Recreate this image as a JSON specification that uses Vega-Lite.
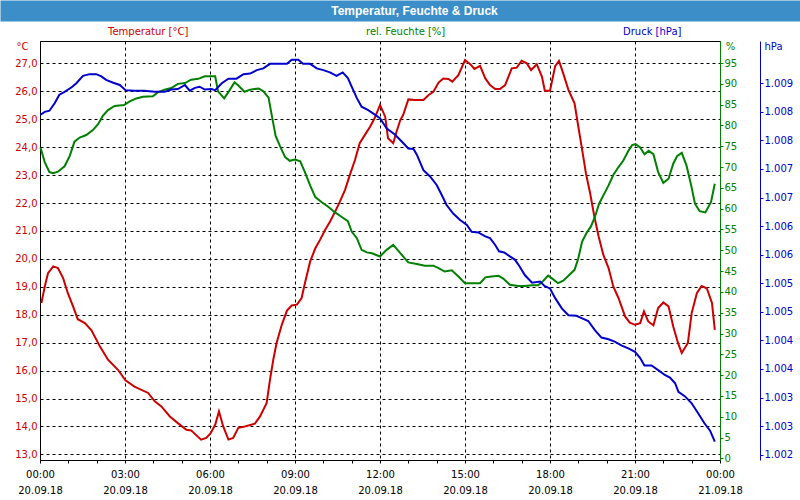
{
  "$schema": "https://vega.github.io/schema/vega-lite/v6.json",
  "width": 680,
  "height": 419,
  "autosize": "none",
  "padding": {"left": 40, "top": 41, "right": 80, "bottom": 40},
  "background": "white",
  "config": {
    "font": "DejaVu Sans",
    "view": {"stroke": "black", "strokeWidth": 1},
    "axis": {"labelFont": "DejaVu Sans", "labelFontSize": 10, "titleFont": "DejaVu Sans", "titleFontSize": 10, "titleFontWeight": "normal"}
  },
  "datasets": {
    "temperatur": [
      {"time":"2018-09-20T00:03","value":18.42},{"time":"2018-09-20T00:10","value":19.0},{"time":"2018-09-20T00:17","value":19.49},{"time":"2018-09-20T00:28","value":19.73},{"time":"2018-09-20T00:38","value":19.67},{"time":"2018-09-20T00:49","value":19.31},{"time":"2018-09-20T00:59","value":18.77},{"time":"2018-09-20T01:10","value":18.3},{"time":"2018-09-20T01:20","value":17.84},{"time":"2018-09-20T01:35","value":17.7},{"time":"2018-09-20T01:49","value":17.44},{"time":"2018-09-20T02:07","value":16.86},{"time":"2018-09-20T02:24","value":16.39},{"time":"2018-09-20T02:45","value":16.03},{"time":"2018-09-20T03:01","value":15.65},{"time":"2018-09-20T03:20","value":15.43},{"time":"2018-09-20T03:49","value":15.2},{"time":"2018-09-20T04:03","value":14.9},{"time":"2018-09-20T04:17","value":14.72},{"time":"2018-09-20T04:35","value":14.36},{"time":"2018-09-20T04:52","value":14.12},{"time":"2018-09-20T05:10","value":13.88},{"time":"2018-09-20T05:20","value":13.86},{"time":"2018-09-20T05:41","value":13.53},{"time":"2018-09-20T05:52","value":13.59},{"time":"2018-09-20T06:01","value":13.75},{"time":"2018-09-20T06:11","value":14.06},{"time":"2018-09-20T06:19","value":14.54},{"time":"2018-09-20T06:28","value":14.0},{"time":"2018-09-20T06:39","value":13.53},{"time":"2018-09-20T06:49","value":13.59},{"time":"2018-09-20T07:00","value":13.95},{"time":"2018-09-20T07:14","value":14.0},{"time":"2018-09-20T07:35","value":14.1},{"time":"2018-09-20T07:46","value":14.36},{"time":"2018-09-20T08:00","value":14.84},{"time":"2018-09-20T08:07","value":15.67},{"time":"2018-09-20T08:14","value":16.39},{"time":"2018-09-20T08:21","value":16.99},{"time":"2018-09-20T08:32","value":17.64},{"time":"2018-09-20T08:43","value":18.15},{"time":"2018-09-20T08:53","value":18.33},{"time":"2018-09-20T09:04","value":18.36},{"time":"2018-09-20T09:14","value":18.6},{"time":"2018-09-20T09:21","value":19.13},{"time":"2018-09-20T09:32","value":19.9},{"time":"2018-09-20T09:43","value":20.38},{"time":"2018-09-20T09:53","value":20.68},{"time":"2018-09-20T10:04","value":21.04},{"time":"2018-09-20T10:14","value":21.33},{"time":"2018-09-20T10:25","value":21.69},{"time":"2018-09-20T10:35","value":22.05},{"time":"2018-09-20T10:46","value":22.47},{"time":"2018-09-20T10:56","value":23.0},{"time":"2018-09-20T11:07","value":23.54},{"time":"2018-09-20T11:17","value":24.14},{"time":"2018-09-20T11:28","value":24.44},{"time":"2018-09-20T11:39","value":24.73},{"time":"2018-09-20T11:49","value":25.05},{"time":"2018-09-20T12:00","value":25.51},{"time":"2018-09-20T12:11","value":25.09},{"time":"2018-09-20T12:17","value":24.32},{"time":"2018-09-20T12:28","value":24.14},{"time":"2018-09-20T12:35","value":24.55},{"time":"2018-09-20T12:43","value":24.97},{"time":"2018-09-20T12:49","value":25.15},{"time":"2018-09-20T13:00","value":25.71},{"time":"2018-09-20T13:14","value":25.69},{"time":"2018-09-20T13:32","value":25.69},{"time":"2018-09-20T13:43","value":25.87},{"time":"2018-09-20T13:53","value":25.98},{"time":"2018-09-20T14:04","value":26.31},{"time":"2018-09-20T14:14","value":26.46},{"time":"2018-09-20T14:25","value":26.44},{"time":"2018-09-20T14:33","value":26.34},{"time":"2018-09-20T14:46","value":26.58},{"time":"2018-09-20T15:00","value":27.12},{"time":"2018-09-20T15:11","value":26.97},{"time":"2018-09-20T15:20","value":26.8},{"time":"2018-09-20T15:32","value":26.91},{"time":"2018-09-20T15:43","value":26.46},{"time":"2018-09-20T15:53","value":26.22},{"time":"2018-09-20T16:04","value":26.08},{"time":"2018-09-20T16:14","value":26.08},{"time":"2018-09-20T16:25","value":26.22},{"time":"2018-09-20T16:39","value":26.82},{"time":"2018-09-20T16:49","value":26.84},{"time":"2018-09-20T17:00","value":27.09},{"time":"2018-09-20T17:11","value":27.0},{"time":"2018-09-20T17:20","value":26.76},{"time":"2018-09-20T17:32","value":26.97},{"time":"2018-09-20T17:43","value":26.52},{"time":"2018-09-20T17:49","value":26.02},{"time":"2018-09-20T18:00","value":26.02},{"time":"2018-09-20T18:11","value":26.9},{"time":"2018-09-20T18:19","value":27.09},{"time":"2018-09-20T18:28","value":26.64},{"time":"2018-09-20T18:39","value":26.05},{"time":"2018-09-20T18:52","value":25.57},{"time":"2018-09-20T19:00","value":24.73},{"time":"2018-09-20T19:07","value":24.02},{"time":"2018-09-20T19:16","value":23.07},{"time":"2018-09-20T19:25","value":22.35},{"time":"2018-09-20T19:34","value":21.51},{"time":"2018-09-20T19:43","value":20.8},{"time":"2018-09-20T19:53","value":20.14},{"time":"2018-09-20T20:04","value":19.67},{"time":"2018-09-20T20:14","value":19.01},{"time":"2018-09-20T20:25","value":18.6},{"time":"2018-09-20T20:39","value":17.94},{"time":"2018-09-20T20:49","value":17.72},{"time":"2018-09-20T21:00","value":17.64},{"time":"2018-09-20T21:11","value":17.7},{"time":"2018-09-20T21:19","value":18.12},{"time":"2018-09-20T21:28","value":17.76},{"time":"2018-09-20T21:39","value":17.62},{"time":"2018-09-20T21:49","value":18.24},{"time":"2018-09-20T22:00","value":18.44},{"time":"2018-09-20T22:11","value":18.3},{"time":"2018-09-20T22:21","value":17.58},{"time":"2018-09-20T22:31","value":16.99},{"time":"2018-09-20T22:39","value":16.63},{"time":"2018-09-20T22:52","value":16.99},{"time":"2018-09-20T23:00","value":18.06},{"time":"2018-09-20T23:11","value":18.77},{"time":"2018-09-20T23:21","value":19.03},{"time":"2018-09-20T23:32","value":18.95},{"time":"2018-09-20T23:43","value":18.42},{"time":"2018-09-20T23:49","value":17.46}
    ],
    "feuchte": [
      {"time":"2018-09-20T00:01","value":74.7},{"time":"2018-09-20T00:10","value":71.2},{"time":"2018-09-20T00:20","value":68.8},{"time":"2018-09-20T00:28","value":68.5},{"time":"2018-09-20T00:38","value":68.9},{"time":"2018-09-20T00:52","value":70.2},{"time":"2018-09-20T01:03","value":72.7},{"time":"2018-09-20T01:13","value":76.1},{"time":"2018-09-20T01:24","value":77.1},{"time":"2018-09-20T01:38","value":77.7},{"time":"2018-09-20T01:52","value":78.9},{"time":"2018-09-20T02:03","value":80.3},{"time":"2018-09-20T02:13","value":82.3},{"time":"2018-09-20T02:24","value":83.7},{"time":"2018-09-20T02:38","value":84.7},{"time":"2018-09-20T02:58","value":84.9},{"time":"2018-09-20T03:10","value":85.8},{"time":"2018-09-20T03:24","value":86.5},{"time":"2018-09-20T03:38","value":86.9},{"time":"2018-09-20T03:59","value":87.0},{"time":"2018-09-20T04:10","value":88.0},{"time":"2018-09-20T04:24","value":88.6},{"time":"2018-09-20T04:38","value":89.0},{"time":"2018-09-20T04:52","value":90.0},{"time":"2018-09-20T05:07","value":90.2},{"time":"2018-09-20T05:20","value":91.0},{"time":"2018-09-20T05:35","value":91.2},{"time":"2018-09-20T05:49","value":91.8},{"time":"2018-09-20T06:11","value":91.8},{"time":"2018-09-20T06:17","value":88.2},{"time":"2018-09-20T06:30","value":86.5},{"time":"2018-09-20T06:40","value":88.2},{"time":"2018-09-20T06:52","value":90.4},{"time":"2018-09-20T07:00","value":89.6},{"time":"2018-09-20T07:13","value":88.1},{"time":"2018-09-20T07:25","value":88.6},{"time":"2018-09-20T07:43","value":88.9},{"time":"2018-09-20T07:53","value":88.2},{"time":"2018-09-20T08:04","value":86.7},{"time":"2018-09-20T08:11","value":82.3},{"time":"2018-09-20T08:19","value":77.5},{"time":"2018-09-20T08:28","value":75.1},{"time":"2018-09-20T08:39","value":72.4},{"time":"2018-09-20T08:49","value":71.5},{"time":"2018-09-20T09:00","value":71.8},{"time":"2018-09-20T09:11","value":71.4},{"time":"2018-09-20T09:21","value":68.8},{"time":"2018-09-20T09:32","value":65.6},{"time":"2018-09-20T09:43","value":62.8},{"time":"2018-09-20T09:56","value":61.6},{"time":"2018-09-20T10:11","value":60.4},{"time":"2018-09-20T10:25","value":59.1},{"time":"2018-09-20T10:39","value":58.0},{"time":"2018-09-20T10:52","value":57.0},{"time":"2018-09-20T11:00","value":54.5},{"time":"2018-09-20T11:11","value":52.9},{"time":"2018-09-20T11:21","value":50.1},{"time":"2018-09-20T11:32","value":49.5},{"time":"2018-09-20T11:43","value":49.3},{"time":"2018-09-20T12:00","value":48.5},{"time":"2018-09-20T12:14","value":50.1},{"time":"2018-09-20T12:28","value":51.3},{"time":"2018-09-20T12:43","value":49.3},{"time":"2018-09-20T13:00","value":47.1},{"time":"2018-09-20T13:18","value":46.7},{"time":"2018-09-20T13:35","value":46.3},{"time":"2018-09-20T13:53","value":46.3},{"time":"2018-09-20T14:04","value":45.7},{"time":"2018-09-20T14:17","value":44.9},{"time":"2018-09-20T14:32","value":45.2},{"time":"2018-09-20T14:46","value":43.7},{"time":"2018-09-20T15:00","value":42.1},{"time":"2018-09-20T15:14","value":42.1},{"time":"2018-09-20T15:32","value":42.1},{"time":"2018-09-20T15:43","value":43.5},{"time":"2018-09-20T15:56","value":43.7},{"time":"2018-09-20T16:11","value":43.9},{"time":"2018-09-20T16:21","value":43.2},{"time":"2018-09-20T16:35","value":41.7},{"time":"2018-09-20T16:53","value":41.4},{"time":"2018-09-20T17:07","value":41.4},{"time":"2018-09-20T17:22","value":41.6},{"time":"2018-09-20T17:35","value":41.6},{"time":"2018-09-20T17:46","value":42.7},{"time":"2018-09-20T17:56","value":43.9},{"time":"2018-09-20T18:07","value":43.0},{"time":"2018-09-20T18:17","value":42.1},{"time":"2018-09-20T18:28","value":42.7},{"time":"2018-09-20T18:39","value":43.9},{"time":"2018-09-20T18:52","value":45.3},{"time":"2018-09-20T19:00","value":48.1},{"time":"2018-09-20T19:08","value":52.1},{"time":"2018-09-20T19:17","value":54.1},{"time":"2018-09-20T19:27","value":55.8},{"time":"2018-09-20T19:35","value":58.0},{"time":"2018-09-20T19:44","value":61.2},{"time":"2018-09-20T19:53","value":63.2},{"time":"2018-09-20T20:04","value":65.6},{"time":"2018-09-20T20:14","value":68.1},{"time":"2018-09-20T20:25","value":70.0},{"time":"2018-09-20T20:35","value":71.5},{"time":"2018-09-20T20:46","value":73.9},{"time":"2018-09-20T20:54","value":75.3},{"time":"2018-09-20T21:01","value":75.5},{"time":"2018-09-20T21:11","value":74.7},{"time":"2018-09-20T21:20","value":73.1},{"time":"2018-09-20T21:29","value":73.9},{"time":"2018-09-20T21:39","value":73.1},{"time":"2018-09-20T21:49","value":68.8},{"time":"2018-09-20T22:00","value":66.2},{"time":"2018-09-20T22:11","value":67.2},{"time":"2018-09-20T22:21","value":70.8},{"time":"2018-09-20T22:29","value":72.6},{"time":"2018-09-20T22:39","value":73.4},{"time":"2018-09-20T22:49","value":70.4},{"time":"2018-09-20T22:59","value":65.6},{"time":"2018-09-20T23:07","value":61.2},{"time":"2018-09-20T23:17","value":59.4},{"time":"2018-09-20T23:29","value":59.1},{"time":"2018-09-20T23:41","value":61.6},{"time":"2018-09-20T23:49","value":66.0}
    ],
    "druck": [
      {"time":"2018-09-20T00:01","value":1007.95},{"time":"2018-09-20T00:10","value":1008.0},{"time":"2018-09-20T00:20","value":1008.02},{"time":"2018-09-20T00:31","value":1008.15},{"time":"2018-09-20T00:41","value":1008.3},{"time":"2018-09-20T00:52","value":1008.35},{"time":"2018-09-20T01:07","value":1008.43},{"time":"2018-09-20T01:17","value":1008.5},{"time":"2018-09-20T01:31","value":1008.63},{"time":"2018-09-20T01:45","value":1008.66},{"time":"2018-09-20T01:59","value":1008.66},{"time":"2018-09-20T02:10","value":1008.62},{"time":"2018-09-20T02:20","value":1008.56},{"time":"2018-09-20T02:35","value":1008.51},{"time":"2018-09-20T02:49","value":1008.47},{"time":"2018-09-20T03:01","value":1008.38},{"time":"2018-09-20T03:20","value":1008.37},{"time":"2018-09-20T03:41","value":1008.37},{"time":"2018-09-20T04:03","value":1008.35},{"time":"2018-09-20T04:24","value":1008.35},{"time":"2018-09-20T04:38","value":1008.39},{"time":"2018-09-20T04:52","value":1008.4},{"time":"2018-09-20T05:07","value":1008.47},{"time":"2018-09-20T05:17","value":1008.37},{"time":"2018-09-20T05:28","value":1008.42},{"time":"2018-09-20T05:38","value":1008.44},{"time":"2018-09-20T05:49","value":1008.39},{"time":"2018-09-20T06:03","value":1008.4},{"time":"2018-09-20T06:11","value":1008.38},{"time":"2018-09-20T06:25","value":1008.5},{"time":"2018-09-20T06:39","value":1008.58},{"time":"2018-09-20T06:56","value":1008.58},{"time":"2018-09-20T07:11","value":1008.66},{"time":"2018-09-20T07:25","value":1008.67},{"time":"2018-09-20T07:39","value":1008.73},{"time":"2018-09-20T07:53","value":1008.76},{"time":"2018-09-20T08:07","value":1008.84},{"time":"2018-09-20T08:25","value":1008.84},{"time":"2018-09-20T08:43","value":1008.84},{"time":"2018-09-20T08:53","value":1008.91},{"time":"2018-09-20T09:07","value":1008.91},{"time":"2018-09-20T09:17","value":1008.84},{"time":"2018-09-20T09:32","value":1008.84},{"time":"2018-09-20T09:46","value":1008.76},{"time":"2018-09-20T10:00","value":1008.73},{"time":"2018-09-20T10:14","value":1008.69},{"time":"2018-09-20T10:28","value":1008.63},{"time":"2018-09-20T10:41","value":1008.69},{"time":"2018-09-20T10:52","value":1008.59},{"time":"2018-09-20T11:00","value":1008.44},{"time":"2018-09-20T11:11","value":1008.24},{"time":"2018-09-20T11:21","value":1008.09},{"time":"2018-09-20T11:35","value":1008.03},{"time":"2018-09-20T11:46","value":1007.97},{"time":"2018-09-20T12:00","value":1007.89},{"time":"2018-09-20T12:14","value":1007.71},{"time":"2018-09-20T12:32","value":1007.6},{"time":"2018-09-20T12:46","value":1007.48},{"time":"2018-09-20T13:00","value":1007.36},{"time":"2018-09-20T13:11","value":1007.35},{"time":"2018-09-20T13:18","value":1007.25},{"time":"2018-09-20T13:32","value":1006.98},{"time":"2018-09-20T13:46","value":1006.87},{"time":"2018-09-20T14:00","value":1006.72},{"time":"2018-09-20T14:11","value":1006.54},{"time":"2018-09-20T14:21","value":1006.37},{"time":"2018-09-20T14:35","value":1006.22},{"time":"2018-09-20T14:49","value":1006.11},{"time":"2018-09-20T15:04","value":1006.02},{"time":"2018-09-20T15:14","value":1005.9},{"time":"2018-09-20T15:28","value":1005.89},{"time":"2018-09-20T15:43","value":1005.82},{"time":"2018-09-20T15:53","value":1005.79},{"time":"2018-09-20T16:04","value":1005.67},{"time":"2018-09-20T16:12","value":1005.56},{"time":"2018-09-20T16:23","value":1005.54},{"time":"2018-09-20T16:35","value":1005.47},{"time":"2018-09-20T16:46","value":1005.41},{"time":"2018-09-20T16:56","value":1005.29},{"time":"2018-09-20T17:07","value":1005.14},{"time":"2018-09-20T17:22","value":1005.01},{"time":"2018-09-20T17:39","value":1005.03},{"time":"2018-09-20T17:49","value":1004.95},{"time":"2018-09-20T18:00","value":1004.91},{"time":"2018-09-20T18:11","value":1004.74},{"time":"2018-09-20T18:25","value":1004.56},{"time":"2018-09-20T18:39","value":1004.44},{"time":"2018-09-20T18:56","value":1004.43},{"time":"2018-09-20T19:07","value":1004.39},{"time":"2018-09-20T19:21","value":1004.34},{"time":"2018-09-20T19:35","value":1004.18},{"time":"2018-09-20T19:49","value":1004.05},{"time":"2018-09-20T20:04","value":1004.02},{"time":"2018-09-20T20:17","value":1003.98},{"time":"2018-09-20T20:32","value":1003.91},{"time":"2018-09-20T20:46","value":1003.86},{"time":"2018-09-20T21:00","value":1003.8},{"time":"2018-09-20T21:11","value":1003.69},{"time":"2018-09-20T21:20","value":1003.56},{"time":"2018-09-20T21:35","value":1003.56},{"time":"2018-09-20T21:49","value":1003.48},{"time":"2018-09-20T22:04","value":1003.39},{"time":"2018-09-20T22:14","value":1003.35},{"time":"2018-09-20T22:25","value":1003.25},{"time":"2018-09-20T22:32","value":1003.1},{"time":"2018-09-20T22:46","value":1003.02},{"time":"2018-09-20T23:00","value":1002.9},{"time":"2018-09-20T23:14","value":1002.72},{"time":"2018-09-20T23:27","value":1002.55},{"time":"2018-09-20T23:39","value":1002.42},{"time":"2018-09-20T23:49","value":1002.23}
    ]
  },
  "layer": [
    {
      "data": {"name": "temperatur"},
      "mark": {"type": "line", "strokeWidth": 2},
      "encoding": {
        "x": {
          "field": "time", "type": "temporal",
          "scale": {"domain": [{"year": 2018, "month": 9, "date": 20, "hours": 0}, {"year": 2018, "month": 9, "date": 21, "hours": 0}], "nice": false},
          "axis": {
            "orient": "bottom", "title": null,
            "values": [
              {"year": 2018, "month": 9, "date": 20, "hours": 0}, {"year": 2018, "month": 9, "date": 20, "hours": 1}, {"year": 2018, "month": 9, "date": 20, "hours": 2},
              {"year": 2018, "month": 9, "date": 20, "hours": 3}, {"year": 2018, "month": 9, "date": 20, "hours": 4}, {"year": 2018, "month": 9, "date": 20, "hours": 5},
              {"year": 2018, "month": 9, "date": 20, "hours": 6}, {"year": 2018, "month": 9, "date": 20, "hours": 7}, {"year": 2018, "month": 9, "date": 20, "hours": 8},
              {"year": 2018, "month": 9, "date": 20, "hours": 9}, {"year": 2018, "month": 9, "date": 20, "hours": 10}, {"year": 2018, "month": 9, "date": 20, "hours": 11},
              {"year": 2018, "month": 9, "date": 20, "hours": 12}, {"year": 2018, "month": 9, "date": 20, "hours": 13}, {"year": 2018, "month": 9, "date": 20, "hours": 14},
              {"year": 2018, "month": 9, "date": 20, "hours": 15}, {"year": 2018, "month": 9, "date": 20, "hours": 16}, {"year": 2018, "month": 9, "date": 20, "hours": 17},
              {"year": 2018, "month": 9, "date": 20, "hours": 18}, {"year": 2018, "month": 9, "date": 20, "hours": 19}, {"year": 2018, "month": 9, "date": 20, "hours": 20},
              {"year": 2018, "month": 9, "date": 20, "hours": 21}, {"year": 2018, "month": 9, "date": 20, "hours": 22}, {"year": 2018, "month": 9, "date": 20, "hours": 23},
              {"year": 2018, "month": 9, "date": 21, "hours": 0}
            ],
            "grid": true, "gridColor": "black", "gridDash": [3, 3],
            "gridOpacity": {"condition": {"test": "hours(datum.value) % 3 == 0 && hours(datum.value) != 0", "value": 1}, "value": 0},
            "labelExpr": "hours(datum.value) % 3 == 0 ? timeFormat(datum.value, '%H:%M') : ''",
            "labelOverlap": false, "labelFlush": false, "labelBound": false,
            "labelColor": "black", "labelPadding": 6,
            "tickSize": 3, "tickColor": "black", "domainColor": "black"
          }
        },
        "y": {
          "field": "value", "type": "quantitative",
          "scale": {"domain": [12.8, 27.8], "nice": false, "zero": false},
          "axis": {
            "orient": "left", "values": [13, 14, 15, 16, 17, 18, 19, 20, 21, 22, 23, 24, 25, 26, 27],
            "labelExpr": "datum.value + ',0'",
            "labelColor": "#cc0000", "ticks": false, "labelPadding": 3,
            "grid": true, "gridColor": "black", "gridDash": [3, 3], "domainColor": "black",
            "title": "°C", "titleColor": "#cc0000", "titleAngle": 0, "titleX": -18, "titleY": 5, "titleAlign": "center", "titleBaseline": "middle"
          }
        },
        "color": {
          "datum": "Temperatur [°C]", "type": "nominal",
          "scale": {"domain": ["Temperatur [°C]", "rel. Feuchte [%]", "Druck [hPa]"], "range": ["#cc0000", "#008000", "#0000cc"]},
          "legend": {
            "orient": "none", "legendX": 58, "legendY": -14, "direction": "horizontal", "title": null,
            "symbolSize": 0, "symbolOpacity": 0, "symbolStrokeWidth": 0, "labelOffset": 0, "columnPadding": 167,
            "labelFont": "DejaVu Sans", "labelFontSize": 10,
            "encode": {"labels": {"update": {"fill": {"scale": "color", "field": "value"}}}}
          }
        }
      }
    },
    {
      "data": {"name": "feuchte"},
      "mark": {"type": "line", "strokeWidth": 2},
      "encoding": {
        "x": {
          "field": "time", "type": "temporal",
          "scale": {"domain": [{"year": 2018, "month": 9, "date": 20, "hours": 0}, {"year": 2018, "month": 9, "date": 21, "hours": 0}], "nice": false},
          "axis": {
            "orient": "top", "offset": 20, "values": [{"year": 2018, "month": 9, "date": 20, "hours": 12, "minutes": 42, "seconds": 21}],
            "grid": false, "domain": false, "labels": false,
            "ticks": true, "tickSize": 21, "tickWidth": 800, "tickColor": "#3c8ec8", "tickCap": "butt",
            "title": "Temperatur, Feuchte & Druck", "titleColor": "white", "titleFont": "Liberation Sans", "titleFontSize": 12, "titleFontWeight": "bold",
            "titleX": 374, "titleY": -11, "titleAlign": "center", "titleBaseline": "middle", "titleAngle": 0
          }
        },
        "y": {
          "field": "value", "type": "quantitative",
          "scale": {"domain": [-0.4, 100.3], "nice": false, "zero": false},
          "axis": {
            "orient": "right", "values": [0, 5, 10, 15, 20, 25, 30, 35, 40, 45, 50, 55, 60, 65, 70, 75, 80, 85, 90, 95],
            "labelColor": "#008000", "domainColor": "#008000", "tickColor": "#008000", "tickSize": 3, "labelPadding": 1, "grid": false,
            "title": "%", "titleColor": "#008000", "titleAngle": 0, "titleX": 10, "titleY": 5, "titleAlign": "center", "titleBaseline": "middle"
          }
        },
        "color": {"datum": "rel. Feuchte [%]", "type": "nominal"}
      }
    },
    {
      "data": {"name": "druck"},
      "mark": {"type": "line", "strokeWidth": 2},
      "encoding": {
        "x": {
          "field": "time", "type": "temporal",
          "scale": {"domain": [{"year": 2018, "month": 9, "date": 20, "hours": 0}, {"year": 2018, "month": 9, "date": 21, "hours": 0}], "nice": false},
          "axis": {
            "orient": "bottom", "title": null,
            "values": [
              {"year": 2018, "month": 9, "date": 20, "hours": 0}, {"year": 2018, "month": 9, "date": 20, "hours": 3}, {"year": 2018, "month": 9, "date": 20, "hours": 6},
              {"year": 2018, "month": 9, "date": 20, "hours": 9}, {"year": 2018, "month": 9, "date": 20, "hours": 12}, {"year": 2018, "month": 9, "date": 20, "hours": 15},
              {"year": 2018, "month": 9, "date": 20, "hours": 18}, {"year": 2018, "month": 9, "date": 20, "hours": 21}, {"year": 2018, "month": 9, "date": 21, "hours": 0}
            ],
            "format": "%d.%m.%y",
            "grid": false, "domain": false, "ticks": false,
            "labelOverlap": false, "labelFlush": false, "labelBound": false,
            "labelColor": "black", "labelPadding": 25
          }
        },
        "y": {
          "field": "value", "type": "quantitative",
          "scale": {"domain": [1001.907, 1009.24], "nice": false, "zero": false},
          "axis": {
            "orient": "right", "offset": 40, "values": [1002, 1002.5, 1003, 1003.5, 1004, 1004.5, 1005, 1005.5, 1006, 1006.5, 1007, 1007.5, 1008, 1008.5],
            "labelExpr": "'1.00' + round(datum.value - 1000)",
            "labelColor": "#0000cc", "domainColor": "#0000cc", "tickColor": "#0000cc", "tickSize": 3, "labelPadding": 1, "grid": false,
            "title": "hPa", "titleColor": "#0000cc", "titleAngle": 0, "titleX": 13, "titleY": 5, "titleAlign": "center", "titleBaseline": "middle"
          }
        },
        "color": {"datum": "Druck [hPa]", "type": "nominal"}
      }
    }
  ],
  "resolve": {"scale": {"y": "independent"}, "axis": {"x": "independent"}}
}
